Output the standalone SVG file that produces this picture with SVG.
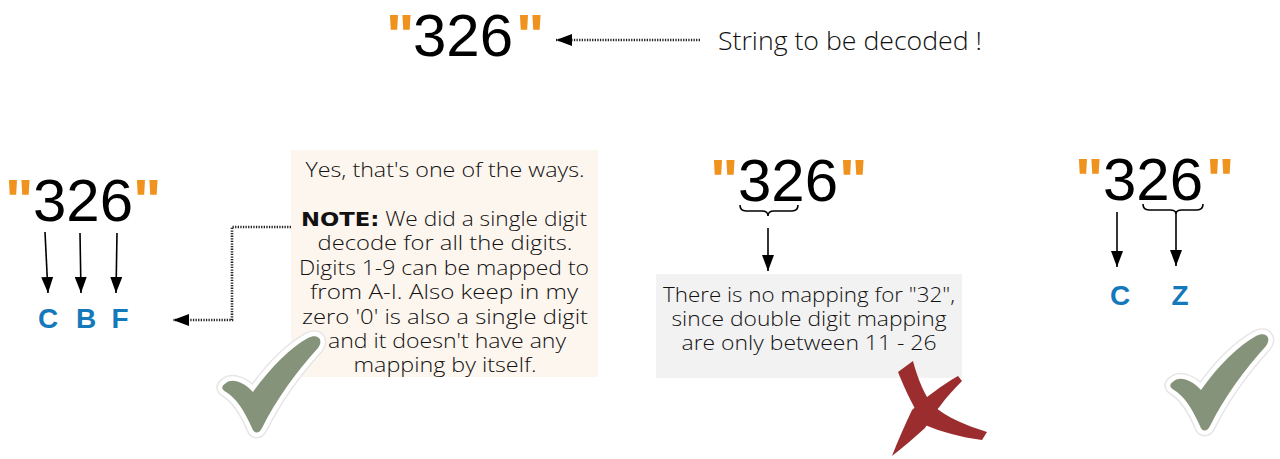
<svg xmlns="http://www.w3.org/2000/svg" width="1280" height="459" viewBox="0 0 1280 459">
<style>
.q{font-family:"Liberation Sans",Arial,sans-serif;font-weight:bold;fill:#F0921E;font-size:60px}
.num{font-family:"Liberation Sans",Arial,sans-serif;fill:#000;font-size:60px}
.let{font-family:"Liberation Sans",Arial,sans-serif;font-weight:bold;fill:#1479BB;font-size:28px;text-anchor:middle}
.body{font-family:"Open Sans","Noto Sans",sans-serif;font-weight:300;fill:#111;font-size:20px;text-anchor:middle}
.note{font-family:"DejaVu Sans",sans-serif;font-weight:bold}
.arr{stroke:#000;stroke-width:1.6;fill:none;marker-end:url(#ah)}
.dot{stroke:#222;stroke-width:2.6;fill:none;stroke-dasharray:1.3 1.3;marker-end:url(#ah)}
.brace{stroke:#000;stroke-width:1.6;fill:none}
.chk{fill:#84937A}
.chkw{fill:#fff;stroke:#fff;stroke-width:9;stroke-linejoin:round}
.chks{fill:#e6e6e6;stroke:#e6e6e6;stroke-width:12;stroke-linejoin:round}
</style>
<defs>
<marker id="ah" markerUnits="userSpaceOnUse" markerWidth="16" markerHeight="12" refX="16" refY="6" orient="auto">
<path d="M0,0 L16,6 L0,12 Z" fill="#000"/>
</marker>
<path id="check" d="M226,383 C232,378 244,382 253,392 C270,368 290,348 308,338 C318,333 324,340 318,348 C296,372 276,400 262,428 C259,434 254,434 252,428 C244,410 236,398 226,392 C221,389 221,386 226,383 Z"/>
</defs>

<g id="top-string">
<text class="q" x="386" y="56">"</text>
<text class="num" x="413" y="56">326</text>
<text class="q" x="516" y="56">"</text>
</g>
<g id="top-label">
<text x="718" y="50" font-family="'Open Sans','Noto Sans',sans-serif" font-weight="300" font-size="25" fill="#111" textLength="264" lengthAdjust="spacingAndGlyphs">String to be decoded  !</text>
</g>

<g id="left-string">
<text class="q" x="5" y="221">"</text>
<text class="num" x="33" y="221">326</text>
<text class="q" x="133" y="221">"</text>
</g>
<g id="left-letters">
<text class="let" x="48" y="328">C</text>
<text class="let" x="86" y="328">B</text>
<text class="let" x="120" y="328">F</text>
</g>

<g id="note-box">
<rect x="291" y="150" width="307" height="227" fill="#FDF6EF"/>
<text class="body" x="445" y="177" textLength="279" lengthAdjust="spacingAndGlyphs">Yes, that's one of the ways.</text>
<text class="body" x="444" y="226" textLength="286" lengthAdjust="spacingAndGlyphs"><tspan class="note">NOTE:</tspan> We did a single digit</text>
<text class="body" x="445" y="250" textLength="255" lengthAdjust="spacingAndGlyphs">decode for all the digits.</text>
<text class="body" x="444" y="275" textLength="290" lengthAdjust="spacingAndGlyphs">Digits 1-9 can be mapped to</text>
<text class="body" x="444" y="299" textLength="268" lengthAdjust="spacingAndGlyphs">from A-I. Also keep in my</text>
<text class="body" x="445" y="324" textLength="286" lengthAdjust="spacingAndGlyphs">zero '0' is also a single digit</text>
<text class="body" x="447" y="348" textLength="238" lengthAdjust="spacingAndGlyphs">and it doesn't have any</text>
<text class="body" x="445" y="372" textLength="183" lengthAdjust="spacingAndGlyphs">mapping by itself.</text>
</g>

<g id="check-left">
<use href="#check" class="chks"/>
<use href="#check" class="chkw"/>
<use href="#check" class="chk"/>
</g>

<g id="middle-string">
<text class="q" x="710" y="201">"</text>
<text class="num" x="738" y="201">326</text>
<text class="q" x="839" y="201">"</text>
</g>
<g id="middle-box">
<rect x="656" y="274" width="306" height="104" fill="#F2F2F2"/>
<text class="body" x="809" y="302" textLength="292" lengthAdjust="spacingAndGlyphs">There is no mapping for "32",</text>
<text class="body" x="809" y="326" textLength="275" lengthAdjust="spacingAndGlyphs">since double digit mapping</text>
<text class="body" x="809" y="350" textLength="255" lengthAdjust="spacingAndGlyphs">are only between 11 - 26</text>
</g>
<g id="cross">
<path fill="#9B2D2E" d="M898,372 L913,361 C918,380 925,395 932,405 C948,418 965,425 987,432 L982,440 C960,437 942,432 925,425 C915,410 905,390 898,372 Z"/>
<path fill="#9B2D2E" d="M958,376 L962,381 C945,398 935,412 925,428 C912,440 902,448 892,456 C898,440 905,425 912,410 C925,398 942,385 958,376 Z"/>
</g>

<g id="right-string">
<text class="q" x="1075" y="200">"</text>
<text class="num" x="1103" y="200">326</text>
<text class="q" x="1206" y="200">"</text>
</g>
<g id="right-letters">
<text class="let" x="1120" y="305">C</text>
<text class="let" x="1180" y="305">Z</text>
</g>
<g id="check-right" transform="translate(948,-2)">
<use href="#check" class="chks"/>
<use href="#check" class="chkw"/>
<use href="#check" class="chk"/>
</g>

<g id="connectors">
<path class="dot" d="M700,40 L556,40"/>
<line class="arr" x1="45" y1="232" x2="48" y2="293"/>
<line class="arr" x1="80" y1="233" x2="81" y2="293"/>
<line class="arr" x1="117" y1="233" x2="116" y2="293"/>
<path class="dot" d="M291,227 L232,227 L232,320 L173,320"/>
<path class="brace" d="M740,205 Q740,211 746,211 L762,211 Q768,211 768,216 Q768,211 774,211 L792,211 Q798,211 798,205"/>
<line class="arr" x1="768" y1="228" x2="768" y2="271"/>
<path class="brace" d="M1143,204 Q1143,210 1149,210 L1170,210 Q1176,210 1176,214 Q1176,210 1182,210 L1197,210 Q1203,210 1203,204"/>
<line class="arr" x1="1176" y1="214" x2="1176" y2="266"/>
<line class="arr" x1="1117" y1="212" x2="1117" y2="267"/>
</g>
</svg>
